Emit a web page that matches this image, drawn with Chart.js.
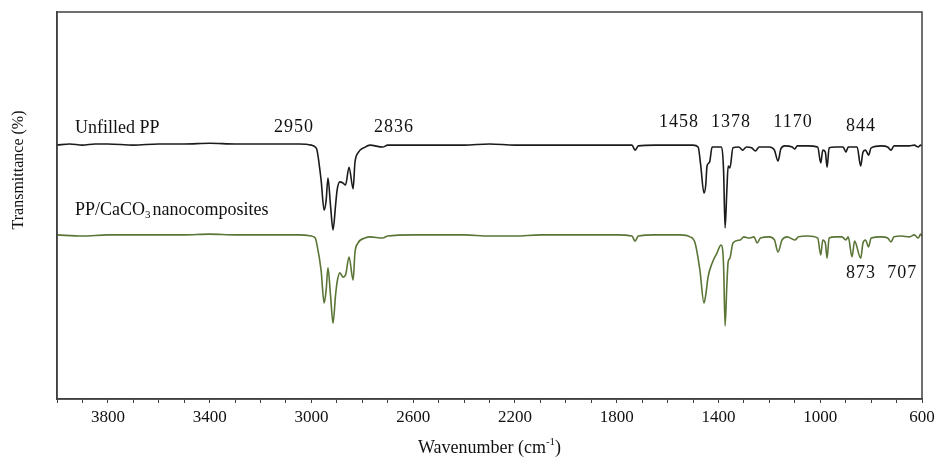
<!DOCTYPE html>
<html>
<head>
<meta charset="utf-8">
<script src="https://cdn.jsdelivr.net/npm/chart.js@4"></script>
<style>
  html, body { margin: 0; padding: 0; background: #fff; }
  #wrap { width: 936px; height: 460px; }
</style>
</head>
<body>
<div id="wrap"><canvas id="ftirChart" width="936" height="460"></canvas></div>
<script>
// wavenumber (cm-1) and transmittance readings for each spectrum
const wnPP = [4000,3950,3900,3850,3800,3700,3600,3500,3400,3300,3200,3100,3050,3000,2985,2978,2962,2950,2942,2935,2925,2915,2905,2899,2888,2876,2866,2852,2836,2829,2817,2789,2770,2720,2700,2600,2500,2400,2300,2200,2100,2000,1900,1800,1740,1728,1715,1650,1550,1500,1480,1470,1457,1450,1445,1435,1425,1390,1380,1374,1367,1362,1355,1343,1320,1305,1290,1270,1255,1240,1200,1180,1166,1155,1140,1110,1100,1090,1050,1010,998,990,980,973,965,940,910,899,890,855,841,832,822,810,800,760,735,722,710,680,650,630,615,605,600];
const tPP = [65.6,65.9,65.6,65.9,65.9,65.6,65.9,65.9,66.1,65.9,65.9,65.9,65.9,65.6,65.1,64.3,56.6,48.8,51.4,57.1,50.1,43.7,50.1,54.0,56.1,55.8,55.3,59.9,54.3,61.0,63.6,65.1,65.6,65.1,65.6,65.6,65.6,65.6,65.9,65.6,65.6,65.6,65.6,65.6,65.6,64.3,65.4,65.6,65.6,65.6,65.1,60.5,53.2,55.3,60.2,61.2,65.1,65.1,59.2,44.2,54.0,60.2,59.7,64.9,65.1,64.3,65.1,64.9,64.1,65.1,65.1,64.3,61.5,64.6,65.4,65.1,64.6,65.4,65.4,65.1,61.0,64.3,63.8,59.9,64.9,65.1,65.1,63.8,65.1,65.1,60.2,63.8,64.3,63.0,64.9,65.4,65.1,64.3,65.4,65.4,65.4,65.6,65.1,65.6,65.4];

const wnNano = [4000,3900,3800,3700,3600,3500,3400,3300,3200,3100,3050,3000,2985,2978,2962,2950,2942,2935,2925,2915,2905,2899,2888,2876,2866,2852,2836,2829,2817,2789,2770,2720,2700,2600,2500,2400,2300,2200,2100,2000,1900,1800,1740,1728,1715,1650,1550,1512,1492,1473,1457,1450,1441,1425,1406,1390,1380,1374,1367,1362,1355,1343,1315,1300,1280,1260,1248,1235,1200,1180,1166,1150,1130,1100,1085,1050,1010,998,990,980,973,965,940,915,899,890,875,865,841,832,822,810,800,760,735,722,710,680,650,630,615,605,600];
const tNano = [42.4,42.1,42.4,42.4,42.4,42.4,42.6,42.4,42.4,42.4,42.4,42.1,41.6,39.8,33.3,24.8,28.2,33.9,26.9,19.6,26.9,30.2,32.6,31.5,32.0,36.7,30.7,37.7,40.3,41.6,41.9,41.6,42.1,42.4,42.4,42.4,42.1,42.1,42.4,42.4,42.4,42.4,42.1,40.8,42.1,42.4,42.4,41.9,40.3,33.3,24.8,26.9,31.5,35.1,37.7,39.8,34.6,18.9,29.5,35.4,36.4,40.3,41.1,41.9,41.6,41.9,40.3,41.6,41.9,41.1,38.0,41.1,41.9,41.1,41.9,42.1,41.6,37.2,41.1,40.3,36.4,41.6,41.9,41.9,41.1,41.9,36.7,40.8,36.4,40.3,41.1,39.3,41.6,41.9,41.6,40.6,41.9,42.1,41.9,42.4,41.6,42.6,42.1];

// peak labels: text, wavenumber, transmittance
const peakText = ['2950', '2836', '1458', '1378', '1170', '844', '873', '707'];
const peakX = [3068, 2675, 1555, 1351, 1107, 840, 840, 678];
const peakY = [70.3, 70.3, 71.6, 71.6, 71.6, 70.5, 32.6, 32.6];

const toPts = (xs, ys) => xs.map((x, i) => ({ x: x, y: ys[i] }));

const serif = '"Liberation Serif", "Times New Roman", serif';

const decor = {
  id: 'decor',
  afterDraw(chart) {
    const ctx = chart.ctx;
    const a = chart.chartArea;
    const xs = chart.scales.x, ys = chart.scales.y;
    ctx.save();
    // frame
    ctx.strokeStyle = '#404040';
    ctx.lineWidth = 1.5;
    ctx.strokeRect(a.left, a.top, a.right - a.left, a.bottom - a.top);

    ctx.fillStyle = '#111';
    ctx.textBaseline = 'middle';

    // series names
    ctx.font = '18px ' + serif;
    ctx.textAlign = 'left';
    const lx = xs.getPixelForValue(3929);
    ctx.fillText('Unfilled PP', lx, ys.getPixelForValue(70.0));
    let y2 = ys.getPixelForValue(48.8);
    let t1 = 'PP/CaCO';
    ctx.fillText(t1, lx, y2);
    let cx = lx + ctx.measureText(t1).width;
    ctx.font = '11px ' + serif;
    ctx.fillText('3', cx, y2 + 5);
    cx += ctx.measureText('3').width + 2;
    ctx.font = '18px ' + serif;
    ctx.fillText('nanocomposites', cx, y2);

    // peak labels
    ctx.textAlign = 'center';
    ctx.font = '18px ' + serif;
    ctx.letterSpacing = '1px';
    peakText.forEach((t, i) => {
      ctx.fillText(t, xs.getPixelForValue(peakX[i]), ys.getPixelForValue(peakY[i]));
    });
    ctx.letterSpacing = '0px';

    // x axis title with superscript
    const xt = 'Wavenumber (cm';
    ctx.font = '18px ' + serif;
    const w1 = ctx.measureText(xt).width;
    ctx.font = '11px ' + serif;
    const w2 = ctx.measureText('-1').width;
    ctx.font = '18px ' + serif;
    const w3 = ctx.measureText(')').width;
    let sx = (a.left + a.right) / 2 - (w1 + w2 + w3) / 2;
    const ty = 448;
    ctx.textAlign = 'left';
    ctx.fillText(xt, sx, ty);
    sx += w1;
    ctx.font = '11px ' + serif;
    ctx.fillText('-1', sx, ty - 6);
    sx += w2;
    ctx.font = '18px ' + serif;
    ctx.fillText(')', sx, ty);

    // y axis title
    ctx.translate(19, 170);
    ctx.rotate(-Math.PI / 2);
    ctx.textAlign = 'center';
    ctx.font = '16px ' + serif;
    ctx.fillText('Transmittance (%)', 0, 0);
    ctx.restore();
  }
};

const canvas = document.getElementById('ftirChart');
const ctx = canvas.getContext('2d');

const myChart = new Chart(ctx, {
  type: 'line',
  data: {
    datasets: [
      {
        label: 'Unfilled PP',
        data: toPts(wnPP, tPP),
        borderColor: '#1b1b1b',
        borderWidth: 1.6,
        pointRadius: 0,
        fill: false,
        cubicInterpolationMode: 'monotone'
      },
      {
        label: 'PP/CaCO3 nanocomposites',
        data: toPts(wnNano, tNano),
        borderColor: '#5a7536',
        borderWidth: 1.6,
        pointRadius: 0,
        fill: false,
        cubicInterpolationMode: 'monotone'
      }
    ]
  },
  options: {
    responsive: false,
    animation: false,
    layout: { padding: { left: 0, top: 12, right: 14, bottom: 0 } },
    plugins: {
      legend: { display: false },
      tooltip: { enabled: false }
    },
    scales: {
      x: {
        type: 'linear',
        reverse: true,
        min: 600,
        max: 4000,
        grid: { display: true, drawOnChartArea: false, drawTicks: true, tickLength: 4, color: '#404040', lineWidth: 1 },
        border: { display: true, color: '#404040', width: 1.5 },
        ticks: {
          stepSize: 100,
          autoSkip: false,
          maxRotation: 0,
          padding: 4,
          color: '#111',
          font: { family: serif, size: 17 },
          callback: (v) => ((v - 600) % 400 === 0 ? String(v) : '')
        },
        afterFit(s) { s.height = 61; s.paddingLeft = 0; s.paddingRight = 0; }
      },
      y: {
        min: 0,
        max: 100,
        grid: { display: false },
        border: { display: true, color: '#404040', width: 1.5 },
        ticks: { display: false },
        afterFit(s) { s.width = 57; }
      }
    }
  },
  plugins: [decor]
});
</script>
</body>
</html>
